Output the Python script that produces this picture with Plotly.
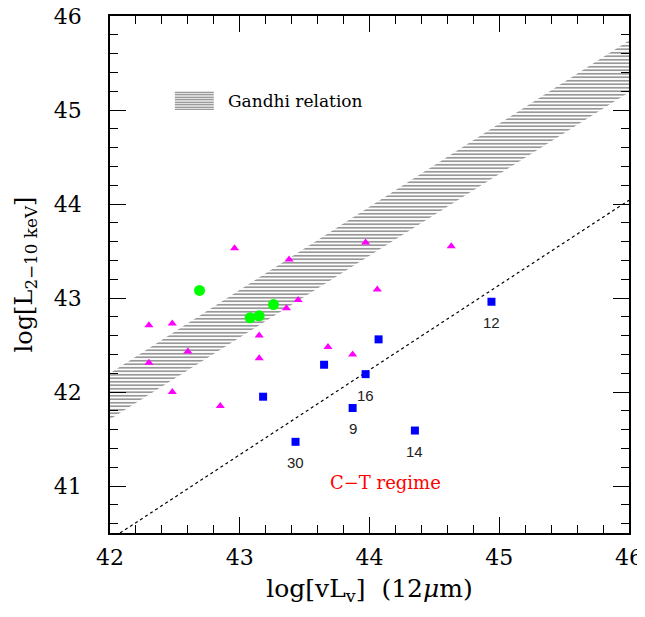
import plotly.graph_objects as go

# ---- data ----
tri_x = [42.96, 42.30, 42.48, 43.38, 43.45, 43.36, 43.97, 44.63, 44.06,
         43.15, 43.68, 43.87, 43.15, 42.60, 42.30, 42.48, 42.85]
tri_y = [43.53, 42.71, 42.73, 43.41, 42.98, 42.89, 43.59, 43.55, 43.09,
         42.60, 42.48, 42.40, 42.36, 42.43, 42.31, 42.00, 41.85]

circ_x = [42.69, 43.08, 43.15, 43.26]
circ_y = [43.08, 42.79, 42.81, 42.93]

sq_x = [44.94, 44.07, 43.65, 43.97, 43.18, 43.87, 44.35, 43.43]
sq_y = [42.96, 42.56, 42.29, 42.19, 41.95, 41.83, 41.59, 41.47]
sq_lbl = ["12", "", "", "16", "", "9", "14", "30"]

# Gandhi relation band (edges) and Compton-thick dividing line
band_x = [42.0, 46.0]
band_upper = [42.20, 45.74]
band_lower = [41.71, 45.19]
ct_x = [42.0, 46.0]
ct_y = [40.43, 44.04]

x_ticks = [42, 43, 44, 45, 46]
y_ticks = [41, 42, 43, 44, 45, 46]

# legend sample box (data units)
leg_x = [42.50, 42.80]
leg_y = [45.00, 45.20]

SERIF = "DejaVu Serif"

fig = go.Figure()

# hatched band
fig.add_trace(go.Scatter(
    x=band_x + band_x[::-1], y=band_upper + band_lower[::-1],
    fill="toself", mode="lines", line=dict(width=0),
    fillcolor="rgba(255,255,255,0)",
    fillpattern=dict(shape="-", size=3.5, solidity=0.4, fgcolor="black",
                     bgcolor="rgba(255,255,255,0)"),
    hoverinfo="skip", showlegend=False))

# legend sample
fig.add_trace(go.Scatter(
    x=[leg_x[0], leg_x[1], leg_x[1], leg_x[0], leg_x[0]],
    y=[leg_y[0], leg_y[0], leg_y[1], leg_y[1], leg_y[0]],
    fill="toself", mode="lines", line=dict(width=0),
    fillcolor="rgba(255,255,255,0)",
    fillpattern=dict(shape="-", size=2.5, solidity=0.5, fgcolor="black",
                     bgcolor="rgba(255,255,255,0)"),
    hoverinfo="skip", showlegend=False))

# C-T dividing line
fig.add_trace(go.Scatter(x=ct_x, y=ct_y, mode="lines",
                         line=dict(color="black", width=1.2, dash="dot"),
                         showlegend=False))

fig.add_trace(go.Scatter(x=tri_x, y=tri_y, mode="markers",
                         marker=dict(symbol="triangle-up", size=8, color="#ff00ff"),
                         showlegend=False))
fig.add_trace(go.Scatter(x=circ_x, y=circ_y, mode="markers",
                         marker=dict(symbol="circle", size=11, color="#00ff00"),
                         showlegend=False))
fig.add_trace(go.Scatter(x=sq_x, y=sq_y, mode="markers",
                         marker=dict(symbol="square", size=8, color="#0000ff"),
                         showlegend=False))

for x, y, t in zip(sq_x, sq_y, sq_lbl):
    if t:
        fig.add_annotation(x=x, y=y, text=t, showarrow=False, yshift=-21,
                           font=dict(family="Liberation Sans", size=15, color="#222"))

fig.add_annotation(x=leg_x[1], y=(leg_y[0] + leg_y[1]) / 2, text="Gandhi relation",
                   showarrow=False, xanchor="left", xshift=12,
                   font=dict(family=SERIF, size=17, color="black"))
fig.add_annotation(x=44.12, y=41.04, text="C\u2212T regime", showarrow=False,
                   font=dict(family=SERIF, size=18, color="red"))

axis_common = dict(showgrid=False, zeroline=False, showline=True, linecolor="black",
                   linewidth=1.5, mirror="allticks", ticks="inside", ticklen=16,
                   tickwidth=1.2, tickcolor="black", automargin=False,
                   ticklabeloverflow="allow",
                   tickfont=dict(family=SERIF, size=22, color="black"))

fig.update_xaxes(range=[42, 46], tickvals=x_ticks,
                 minor=dict(dtick=0.2, ticklen=8, ticks="inside", tickcolor="black", tickwidth=1),
                 title=dict(text="log[vL<sub>v</sub>]  (12<i>\u03bc</i>m)",
                            font=dict(family=SERIF, size=25, color="black"), standoff=10),
                 ticklabelstandoff=4,
                 **axis_common)
fig.update_yaxes(range=[40.5, 46], tickvals=y_ticks,
                 minor=dict(dtick=0.2, ticklen=8, ticks="inside", tickcolor="black", tickwidth=1),
                 title=dict(text="log[L<sub>2\u221210 keV</sub>]",
                            font=dict(family=SERIF, size=24, color="black"), standoff=14),
                 ticklabelstandoff=22,
                 **axis_common)

# page body adds an 8px offset; compensate so the plot area sits at the reference position
fig.update_layout(width=637, height=609, plot_bgcolor="white", paper_bgcolor="white",
                  margin=dict(l=102, r=16, t=8, b=84))

fig.write_html("out.html")
